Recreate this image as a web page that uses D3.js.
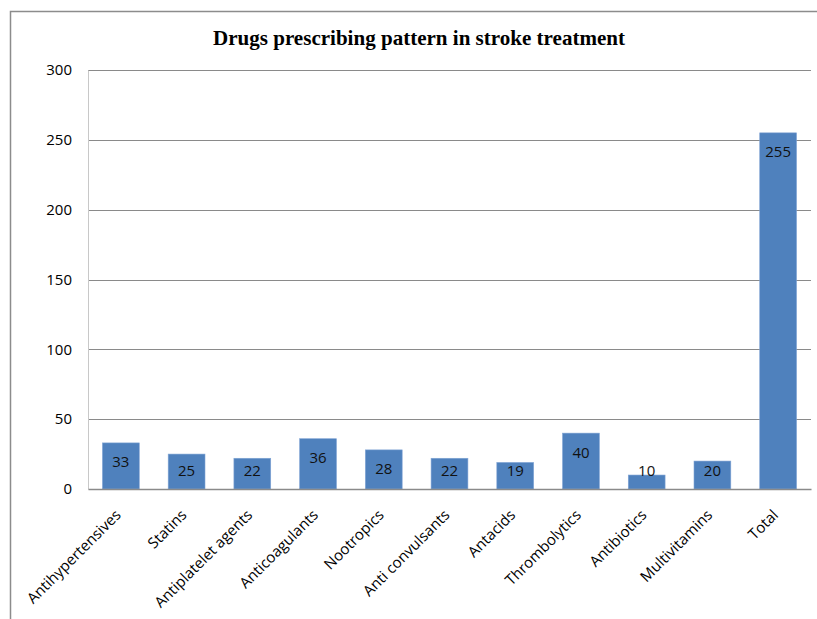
<!DOCTYPE html>
<html>
<head>
<meta charset="utf-8">
<script src="https://cdn.jsdelivr.net/npm/d3@7"></script>
<style>
  body { margin: 0; background: #fff; overflow: hidden; }
  svg { display: block; }
</style>
</head>
<body>
<div id="chart"></div>
<script>
// Données
var categories = ["Antihypertensives", "Statins", "Antiplatelet agents", "Anticoagulants",
                  "Nootropics", "Anti convulsants", "Antacids", "Thrombolytics",
                  "Antibiotics", "Multivitamins", "Total"];
var values = [33, 25, 22, 36, 28, 22, 19, 40, 10, 20, 255];
var yTicks = [0, 50, 100, 150, 200, 250, 300];
var title = "Drugs prescribing pattern in stroke treatment";

var W = 817, H = 619;
var margin = {top: 70, right: 6, bottom: 130, left: 88},
    width = W - margin.left - margin.right,
    height = H - margin.top - margin.bottom;

var svg = d3.select("#chart")
  .append("svg")
    .attr("width", W)
    .attr("height", H);

// Cadre extérieur (ouvert à droite et en bas)
svg.append("path")
  .attr("d", "M10.5," + H + "V11.5H" + W)
  .attr("fill", "none")
  .attr("stroke", "#8c8c8c")
  .attr("stroke-width", 1.5);

// Titre
svg.append("text")
  .attr("x", 419)
  .attr("y", 45)
  .attr("text-anchor", "middle")
  .attr("textLength", 412)
  .attr("lengthAdjust", "spacingAndGlyphs")
  .style("font-family", "'Liberation Serif', 'Times New Roman', serif")
  .style("font-weight", "bold")
  .style("font-size", "21px")
  .text(title);

var g = svg.append("g")
  .attr("transform", "translate(" + margin.left + "," + margin.top + ")");

var x = d3.scaleBand()
  .domain(categories)
  .range([0, width])
  .paddingInner(0.44)
  .paddingOuter(0.22);

var y = d3.scaleLinear()
  .domain([0, 300])
  .range([height, 0]);

// Grille
g.append("g")
  .selectAll("line")
  .data(yTicks.filter(function(d){ return d > 0; }))
  .enter().append("line")
    .attr("x1", 0).attr("x2", width)
    .attr("y1", function(d){ return Math.round(y(d)) + 0.5; })
    .attr("y2", function(d){ return Math.round(y(d)) + 0.5; })
    .attr("stroke", "#8a8a8a")
    .attr("stroke-width", 1);

// Axe des ordonnées
var yAxis = g.append("g")
  .call(d3.axisLeft(y).tickValues(yTicks).tickSize(0).tickPadding(16));
yAxis.select(".domain").attr("stroke", "#c8c8c8");
yAxis.selectAll("text")
  .style("font-family", "'Open Sans', 'Liberation Sans', sans-serif")
  .style("font-size", "15px")
  .attr("fill", "#000");

// Barres
g.selectAll(".bar")
  .data(values)
  .enter().append("rect")
    .attr("class", "bar")
    .attr("x", function(d, i){ return x(categories[i]); })
    .attr("width", x.bandwidth())
    .attr("y", function(d){ return y(d); })
    .attr("height", function(d){ return height - y(d); })
    .attr("fill", "#4f81bd")
    .attr("stroke", "#7fa3d4")
    .attr("stroke-width", 0.6);

// Étiquettes de valeurs
g.selectAll(".lbl")
  .data(values)
  .enter().append("text")
    .attr("class", "lbl")
    .attr("x", function(d, i){ return x(categories[i]) + x.bandwidth() / 2; })
    .attr("y", function(d){ return Math.min(y(d) + 19.5, height - 18) + 5; })
    .attr("text-anchor", "middle")
    .style("font-family", "'Open Sans', 'Liberation Sans', sans-serif")
    .style("font-size", "15px")
    .attr("fill", "#111")
    .text(function(d){ return d; });

// Axe des abscisses
var xAxis = g.append("g")
  .attr("transform", "translate(0," + height + ")")
  .call(d3.axisBottom(x).tickSize(0).tickPadding(0));
xAxis.select(".domain").attr("stroke", "#8a8a8a").attr("stroke-width", 1.5);
xAxis.selectAll("text")
  .style("font-family", "'Open Sans', 'Liberation Sans', sans-serif")
  .style("font-size", "15px")
  .attr("fill", "#000")
  .attr("text-anchor", "end")
  .attr("dy", 0)
  .attr("transform", "translate(1,27) rotate(-45)");
</script>
</body>
</html>
